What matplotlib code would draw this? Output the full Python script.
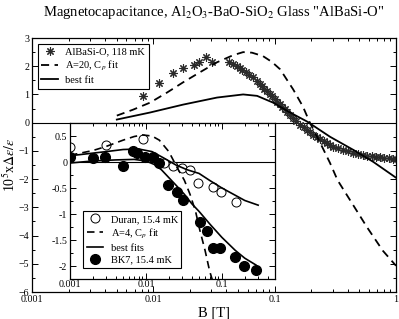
import numpy as np
import matplotlib
matplotlib.use("Agg")
import matplotlib.pyplot as plt
from matplotlib.ticker import LogLocator, MultipleLocator, NullFormatter, FixedFormatter, FixedLocator

plt.rcParams['font.family'] = ['Liberation Serif', 'DejaVu Serif']
plt.rcParams['mathtext.fontset'] = 'stix'

# -----------------------------
# main panel: AlBaSi-O, 118 mK
# -----------------------------
B_albasi = [0.0082, 0.0111, 0.0145, 0.0176, 0.0217, 0.0238, 0.0272, 0.0305,
            0.042, 0.045, 0.049, 0.052, 0.054, 0.058, 0.062, 0.066, 0.0716,
            0.075, 0.0787, 0.082, 0.0865, 0.091, 0.0952, 0.100, 0.1047, 0.110,
            0.115, 0.121, 0.1266, 0.134, 0.142, 0.151, 0.162, 0.173, 0.185,
            0.196, 0.207, 0.222, 0.237, 0.253, 0.27, 0.286, 0.303, 0.333,
            0.366, 0.40, 0.443, 0.49, 0.53, 0.578, 0.63, 0.68, 0.74, 0.80,
            0.87, 0.946, 1.0]
d_albasi = [0.93, 1.39, 1.75, 1.93, 2.04, 2.14, 2.32, 2.14,
            2.14, 2.07, 2.00, 1.95, 1.86, 1.78, 1.70, 1.62, 1.46,
            1.38, 1.29, 1.20, 1.11, 1.02, 0.93, 0.84, 0.75, 0.66,
            0.57, 0.48, 0.39, 0.28, 0.18, 0.06, -0.07, -0.16, -0.25,
            -0.34, -0.43, -0.50, -0.57, -0.64, -0.71, -0.79, -0.86, -0.91,
            -0.96, -1.01, -1.07, -1.10, -1.14, -1.18, -1.19, -1.20, -1.21, -1.24,
            -1.26, -1.29, -1.30]

B_cp20 = [0.005, 0.0068, 0.0094, 0.013, 0.0176, 0.0243, 0.0335, 0.0454, 0.055,
          0.065, 0.080, 0.095, 0.111, 0.142, 0.171, 0.195, 0.237, 0.286, 0.33,
          0.419, 0.578, 0.78, 1.0]
d_cp20 = [0.25, 0.46, 0.71, 1.07, 1.43, 1.79, 2.14, 2.39, 2.50,
          2.48, 2.36, 2.15, 1.89, 1.18, 0.57, 0.0, -0.71, -1.43, -2.04,
          -2.75, -3.71, -4.54, -5.07]

B_best = [0.005, 0.0094, 0.0176, 0.0335, 0.055, 0.0716, 0.097, 0.134, 0.185,
          0.286, 0.443, 0.65, 1.0]
d_best = [0.11, 0.36, 0.64, 0.89, 1.00, 0.95, 0.71, 0.36, 0.04,
          -0.50, -0.96, -1.39, -1.95]

# -----------------------------
# inset: Duran and BK7, 15.4 mK
# -----------------------------
B_duran = [0.001, 0.003, 0.0091, 0.0175, 0.0226, 0.0297, 0.038, 0.049, 0.076, 0.097, 0.153]
d_duran = [0.29, 0.33, 0.45, -0.02, -0.08, -0.12, -0.16, -0.41, -0.48, -0.58, -0.76]

B_bk7 = [0.001, 0.002, 0.0029, 0.005, 0.0068, 0.0076, 0.0097, 0.0124, 0.015,
         0.0194, 0.0255, 0.031, 0.051, 0.063, 0.077, 0.095, 0.148, 0.195, 0.28]
d_bk7 = [0.10, 0.08, 0.10, -0.08, 0.21, 0.17, 0.10, 0.10, -0.02,
         -0.45, -0.58, -0.74, -1.15, -1.32, -1.65, -1.65, -1.83, -2.00, -2.08]

B_cp4 = [0.001, 0.002, 0.003, 0.005, 0.007, 0.009, 0.012, 0.015, 0.02, 0.026,
         0.032, 0.038, 0.045, 0.051, 0.06, 0.069, 0.076]
d_cp4 = [0.13, 0.22, 0.30, 0.42, 0.49, 0.52, 0.50, 0.42, 0.20, -0.12,
         -0.35, -0.62, -0.95, -1.30, -1.70, -2.10, -2.30]

B_fit_duran = [0.001, 0.003, 0.005, 0.008, 0.012, 0.017, 0.025, 0.035, 0.05,
               0.07, 0.1, 0.15, 0.2, 0.3]
d_fit_duran = [0.12, 0.20, 0.24, 0.25, 0.20, 0.08, -0.06, -0.15, -0.22,
               -0.36, -0.50, -0.64, -0.74, -0.83]

B_fit_bk7 = [0.001, 0.002, 0.004, 0.007, 0.01, 0.013, 0.016, 0.02, 0.025, 0.032,
             0.04, 0.05, 0.07, 0.1, 0.15, 0.2, 0.28]
d_fit_bk7 = [-0.02, 0.02, 0.04, 0.05, 0.02, -0.05, -0.15, -0.30, -0.45, -0.62,
             -0.80, -0.95, -1.20, -1.45, -1.70, -1.85, -1.98]

W, H = 399, 319
fig = plt.figure(figsize=(W / 100, H / 100), dpi=100)

def ticks_style(ax):
    ax.tick_params(which='both', direction='in', top=True, right=True, labelsize=7.2, width=0.7)
    ax.tick_params(which='major', length=4)
    ax.tick_params(which='minor', length=2.2)
    for s in ax.spines.values():
        s.set_linewidth(0.9)

dash = (4.5, 3.0)

# main axes
ax = fig.add_axes([32 / W, 1 - 292 / H, 364 / W, 254 / H])
ax.set_xscale('log')
ax.set_xlim(0.001, 1)
ax.set_ylim(-6, 3)
ax.axhline(0, color='black', lw=0.8)
ax.plot(B_albasi, d_albasi, ls='none', marker=(8, 2, 0), ms=6, mec='#2a2a2a', mew=0.8,
        color='#2a2a2a', label='AlBaSi-O, 118 mK')
ax.plot(B_cp20, d_cp20, color='black', lw=1.3, dashes=dash, label='A=20, C$_p$ fit')
ax.plot(B_best, d_best, color='black', lw=1.3, label='best fit')
ax.xaxis.set_major_locator(FixedLocator([0.001, 0.01, 0.1, 1]))
ax.xaxis.set_major_formatter(FixedFormatter(['0.001', '0.01', '0.1', '1']))
ax.xaxis.set_minor_locator(LogLocator(base=10, subs=np.arange(2, 10)))
ax.xaxis.set_minor_formatter(NullFormatter())
ax.yaxis.set_major_locator(MultipleLocator(1))
ax.yaxis.set_minor_locator(MultipleLocator(0.5))
ticks_style(ax)
ax.tick_params(axis='x', pad=2)
ax.tick_params(axis='y', pad=2)
ax.set_xlabel('B [T]', fontsize=10.5, labelpad=2)
ax.set_ylabel(r'10$^5$x$\Delta\varepsilon/\varepsilon$', fontsize=10, labelpad=0)
ax.set_title('Magnetocapacitance, Al$_2$O$_3$-BaO-SiO$_2$ Glass "AlBaSi-O"', fontsize=10.5, pad=16)
leg = ax.legend(loc='upper left', bbox_to_anchor=(0.016, 0.978), fontsize=7.5, frameon=True,
                fancybox=False, edgecolor='black', framealpha=1, borderpad=0.35,
                handlelength=1.6, handletextpad=0.7, labelspacing=0.25, borderaxespad=0)
leg.get_frame().set_linewidth(0.8)

# inset axes
ins = fig.add_axes([70 / W, 1 - 279 / H, 205 / W, 156 / H])
ins.set_xscale('log')
ins.set_xlim(0.001, 0.5)
ins.set_ylim(-2.25, 0.75)
ins.axhline(0, color='black', lw=0.8)
ins.plot(B_duran, d_duran, ls='none', marker='o', ms=6.5, mfc='white', mec='black', mew=0.7,
         label='Duran, 15.4 mK')
ins.plot(B_cp4, d_cp4, color='black', lw=1.2, dashes=dash, label='A=4, C$_p$ fit')
ins.plot(B_fit_duran, d_fit_duran, color='black', lw=1.2, label='best fits')
ins.plot(B_fit_bk7, d_fit_bk7, color='black', lw=1.2)
ins.plot(B_bk7, d_bk7, ls='none', marker='o', ms=7, color='black', label='BK7, 15.4 mK')
ins.xaxis.set_major_locator(FixedLocator([0.001, 0.01, 0.1]))
ins.xaxis.set_major_formatter(FixedFormatter(['0.001', '0.01', '0.1']))
ins.xaxis.set_minor_locator(LogLocator(base=10, subs=np.arange(2, 10)))
ins.xaxis.set_minor_formatter(NullFormatter())
ins.yaxis.set_minor_locator(MultipleLocator(0.25))
ins.set_yticks([0.5, 0, -0.5, -1, -1.5, -2])
ins.set_yticklabels(['0.5', '0', '-0.5', '-1', '-1.5', '-2'])
ticks_style(ins)
ins.tick_params(axis='x', pad=1)
ins.tick_params(axis='y', pad=2)
ins.patch.set_facecolor('white')
leg2 = ins.legend(loc='lower left', bbox_to_anchor=(0.063, 0.07), fontsize=7.5, frameon=True,
                  fancybox=False, edgecolor='black', framealpha=1, borderpad=0.35,
                  handlelength=1.6, handletextpad=0.7, labelspacing=0.25, borderaxespad=0)
leg2.get_frame().set_linewidth(0.8)

fig.savefig('out.png', dpi=100)
